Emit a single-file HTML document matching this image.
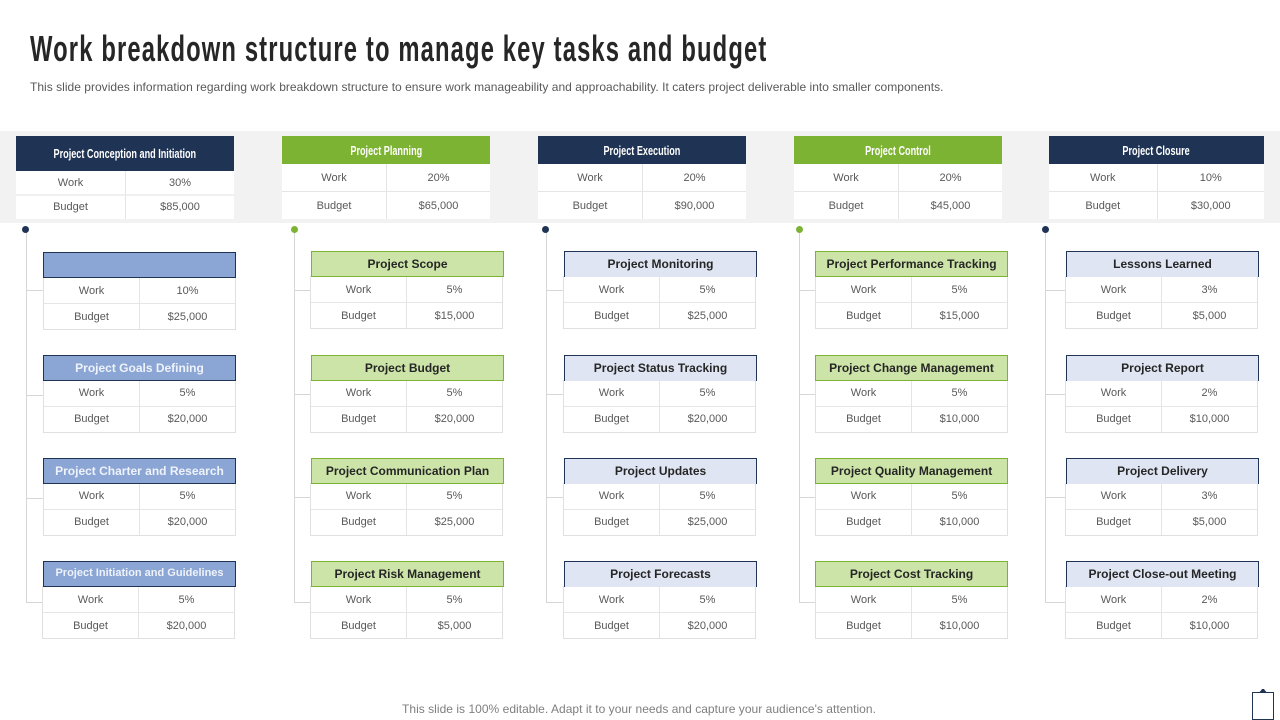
<!DOCTYPE html>
<html lang="en">
<head>
<meta charset="utf-8">
<title>Work breakdown structure</title>
<style>
html,body{margin:0;padding:0;background:#fff}
#slide{position:relative;width:1280px;height:720px;overflow:hidden;background:#fff;font-family:"Liberation Sans",sans-serif;color:#595959}
#slide div{box-sizing:border-box}
.title{position:absolute;left:30px;top:28px;font-size:36px;line-height:42px;font-weight:700;color:#262626;white-space:nowrap;transform-origin:0 0;transform:scaleX(.66);letter-spacing:1.74px}
.sub{position:absolute;left:30px;top:79px;font-size:12px;line-height:16px;color:#595959;white-space:nowrap;letter-spacing:.023px}
.foot{position:absolute;left:402px;top:701px;font-size:12px;line-height:16px;color:#7f7f7f;white-space:nowrap;letter-spacing:.03px}
.band{position:absolute;left:0;top:131px;width:1280px;height:92px;background:#f2f2f2}
.top{position:absolute;top:136px;background:#fff}
.top .hd{position:absolute;left:0;top:0;width:100%;color:#fff;font-weight:700;font-size:13px;text-align:center;white-space:nowrap}
.top .hd span{display:inline-block;transform:scaleX(.7)}
.navy{background:#1f3354}.green{background:#7db332}
.c{position:absolute;width:50%;text-align:center;font-size:11px;white-space:nowrap}
.l{left:0}.r{left:50%;border-left:1px solid #e4e4e4}
.row2{border-top:1px solid #e6e6e6}
.card{position:absolute;width:192px;height:78px}
.card .hd{position:absolute;left:0;top:0;width:193px;height:26px;line-height:24px;font-size:12px;font-weight:700;text-align:center;white-space:nowrap;z-index:2}
.blue{background:#8ba6d4;border:1px solid #1f3354;color:#eef2fa}
.lgreen{background:#cde4a8;border:1px solid #7db332;color:#262626}
.lblue{background:#dfe5f2;border:1px solid #1f3354;border-bottom:0;color:#262626}
.tb{position:absolute;left:0;top:25px;width:193px;height:53px;background:#fff;border:1px solid #e0e0e0;border-top:0}
.tb .c{height:26px;line-height:28px;top:0}
.tb .l{width:95px}
.tb .r{left:95px;width:96px}
.tb .row2{top:26px;line-height:26px}
.up .tb .c{line-height:26px}
.up .tb .row2{line-height:24px}
.v{position:absolute;width:1px;background:#d6d6d6;top:229px}
.h{position:absolute;height:1px;background:#d6d6d6}
.dot{position:absolute;top:226px;width:7px;height:7px;border-radius:50%;z-index:3}
</style>
</head>
<body>
<div id="slide">
<div class="title">Work breakdown structure to manage key tasks and budget</div>
<div class="sub">This slide provides information regarding work breakdown structure to ensure work manageability and approachability. It caters project deliverable into smaller components.</div>
<div class="band"></div>

<div class="top" style="left:16px;width:218px;height:83px">
<div class="hd navy" style="height:35px;line-height:35px"><span>Project Conception and Initiation</span></div>
<div class="c l" style="top:35px;height:24px;line-height:25px;width:109px">Work</div>
<div class="c r" style="top:35px;height:24px;line-height:25px;left:109px;width:109px">30%</div>
<div class="c l" style="top:58px;height:25px;line-height:23px;width:109px;border-top:2px solid #f0f0f0">Budget</div>
<div class="c r" style="top:58px;height:25px;line-height:23px;left:109px;width:109px;border-top:2px solid #f0f0f0">$85,000</div>
</div>

<div class="top" style="left:282px;width:208px;height:83px">
<div class="hd green" style="height:28px;line-height:30px"><span>Project Planning</span></div>
<div class="c l" style="top:28px;height:27px;line-height:29px">Work</div>
<div class="c r" style="top:28px;height:27px;line-height:29px">20%</div>
<div class="c l row2" style="top:55px;height:28px;line-height:29px">Budget</div>
<div class="c r row2" style="top:55px;height:28px;line-height:29px">$65,000</div>
</div>

<div class="top" style="left:538px;width:208px;height:83px">
<div class="hd navy" style="height:28px;line-height:30px"><span>Project Execution</span></div>
<div class="c l" style="top:28px;height:27px;line-height:29px">Work</div>
<div class="c r" style="top:28px;height:27px;line-height:29px">20%</div>
<div class="c l row2" style="top:55px;height:28px;line-height:29px">Budget</div>
<div class="c r row2" style="top:55px;height:28px;line-height:29px">$90,000</div>
</div>

<div class="top" style="left:794px;width:208px;height:83px">
<div class="hd green" style="height:28px;line-height:30px"><span>Project Control</span></div>
<div class="c l" style="top:28px;height:27px;line-height:29px">Work</div>
<div class="c r" style="top:28px;height:27px;line-height:29px">20%</div>
<div class="c l row2" style="top:55px;height:28px;line-height:29px">Budget</div>
<div class="c r row2" style="top:55px;height:28px;line-height:29px">$45,000</div>
</div>

<div class="top" style="left:1049px;width:215px;height:83px">
<div class="hd navy" style="height:28px;line-height:30px"><span>Project Closure</span></div>
<div class="c l" style="top:28px;height:27px;line-height:29px">Work</div>
<div class="c r" style="top:28px;height:27px;line-height:29px">10%</div>
<div class="c l row2" style="top:55px;height:28px;line-height:29px">Budget</div>
<div class="c r row2" style="top:55px;height:28px;line-height:29px">$30,000</div>
</div>

<div class="dot navy" style="left:22px"></div>
<div class="v" style="left:26px;height:374px"></div>
<div class="h" style="left:26px;top:290px;width:17px"></div>
<div class="h" style="left:26px;top:395px;width:17px"></div>
<div class="h" style="left:26px;top:498px;width:17px"></div>
<div class="h" style="left:26px;top:602px;width:17px"></div>

<div class="dot green" style="left:291px"></div>
<div class="v" style="left:294px;height:374px"></div>
<div class="h" style="left:294px;top:290px;width:17px"></div>
<div class="h" style="left:294px;top:394px;width:17px"></div>
<div class="h" style="left:294px;top:497px;width:17px"></div>
<div class="h" style="left:294px;top:602px;width:17px"></div>

<div class="dot navy" style="left:542px"></div>
<div class="v" style="left:546px;height:374px"></div>
<div class="h" style="left:546px;top:290px;width:18px"></div>
<div class="h" style="left:546px;top:394px;width:18px"></div>
<div class="h" style="left:546px;top:497px;width:18px"></div>
<div class="h" style="left:546px;top:602px;width:18px"></div>

<div class="dot green" style="left:796px"></div>
<div class="v" style="left:799px;height:374px"></div>
<div class="h" style="left:799px;top:290px;width:16px"></div>
<div class="h" style="left:799px;top:394px;width:16px"></div>
<div class="h" style="left:799px;top:497px;width:16px"></div>
<div class="h" style="left:799px;top:602px;width:16px"></div>

<div class="dot navy" style="left:1042px"></div>
<div class="v" style="left:1045px;height:374px"></div>
<div class="h" style="left:1045px;top:290px;width:21px"></div>
<div class="h" style="left:1045px;top:394px;width:21px"></div>
<div class="h" style="left:1045px;top:497px;width:21px"></div>
<div class="h" style="left:1045px;top:602px;width:21px"></div>

<!-- Column A -->
<div class="card" style="left:43px;top:252px"><div class="hd blue"></div><div class="tb"><div class="c l">Work</div><div class="c r">10%</div><div class="c l row2">Budget</div><div class="c r row2">$25,000</div></div></div>
<div class="card up" style="left:43px;top:355px"><div class="hd blue">Project Goals Defining</div><div class="tb"><div class="c l">Work</div><div class="c r">5%</div><div class="c l row2">Budget</div><div class="c r row2">$20,000</div></div></div>
<div class="card up" style="left:43px;top:458px"><div class="hd blue">Project Charter and Research</div><div class="tb"><div class="c l">Work</div><div class="c r">5%</div><div class="c l row2">Budget</div><div class="c r row2">$20,000</div></div></div>
<div class="card" style="left:42px;top:561px"><div class="hd blue" style="left:1px;font-size:11px;line-height:22px">Project Initiation and Guidelines</div><div class="tb"><div class="c l">Work</div><div class="c r">5%</div><div class="c l row2">Budget</div><div class="c r row2">$20,000</div></div></div>

<!-- Column B -->
<div class="card" style="left:310px;top:251px"><div class="hd lgreen" style="left:1px">Project Scope</div><div class="tb"><div class="c l">Work</div><div class="c r">5%</div><div class="c l row2">Budget</div><div class="c r row2">$15,000</div></div></div>
<div class="card up" style="left:310px;top:355px"><div class="hd lgreen" style="left:1px">Project Budget</div><div class="tb"><div class="c l">Work</div><div class="c r">5%</div><div class="c l row2">Budget</div><div class="c r row2">$20,000</div></div></div>
<div class="card up" style="left:310px;top:458px"><div class="hd lgreen" style="left:1px">Project Communication Plan</div><div class="tb"><div class="c l">Work</div><div class="c r">5%</div><div class="c l row2">Budget</div><div class="c r row2">$25,000</div></div></div>
<div class="card" style="left:310px;top:561px"><div class="hd lgreen" style="left:1px">Project Risk Management</div><div class="tb"><div class="c l">Work</div><div class="c r">5%</div><div class="c l row2">Budget</div><div class="c r row2">$5,000</div></div></div>

<!-- Column C -->
<div class="card" style="left:563px;top:251px"><div class="hd lblue" style="left:1px">Project Monitoring</div><div class="tb"><div class="c l">Work</div><div class="c r">5%</div><div class="c l row2">Budget</div><div class="c r row2">$25,000</div></div></div>
<div class="card up" style="left:563px;top:355px"><div class="hd lblue" style="left:1px">Project Status Tracking</div><div class="tb"><div class="c l">Work</div><div class="c r">5%</div><div class="c l row2">Budget</div><div class="c r row2">$20,000</div></div></div>
<div class="card up" style="left:563px;top:458px"><div class="hd lblue" style="left:1px">Project Updates</div><div class="tb"><div class="c l">Work</div><div class="c r">5%</div><div class="c l row2">Budget</div><div class="c r row2">$25,000</div></div></div>
<div class="card" style="left:563px;top:561px"><div class="hd lblue" style="left:1px">Project Forecasts</div><div class="tb"><div class="c l">Work</div><div class="c r">5%</div><div class="c l row2">Budget</div><div class="c r row2">$20,000</div></div></div>

<!-- Column D -->
<div class="card" style="left:815px;top:251px"><div class="hd lgreen">Project Performance Tracking</div><div class="tb"><div class="c l">Work</div><div class="c r">5%</div><div class="c l row2">Budget</div><div class="c r row2">$15,000</div></div></div>
<div class="card up" style="left:815px;top:355px"><div class="hd lgreen">Project Change Management</div><div class="tb"><div class="c l">Work</div><div class="c r">5%</div><div class="c l row2">Budget</div><div class="c r row2">$10,000</div></div></div>
<div class="card up" style="left:815px;top:458px"><div class="hd lgreen">Project Quality Management</div><div class="tb"><div class="c l">Work</div><div class="c r">5%</div><div class="c l row2">Budget</div><div class="c r row2">$10,000</div></div></div>
<div class="card" style="left:815px;top:561px"><div class="hd lgreen">Project Cost Tracking</div><div class="tb"><div class="c l">Work</div><div class="c r">5%</div><div class="c l row2">Budget</div><div class="c r row2">$10,000</div></div></div>

<!-- Column E -->
<div class="card" style="left:1065px;top:251px"><div class="hd lblue" style="left:1px">Lessons Learned</div><div class="tb"><div class="c l">Work</div><div class="c r">3%</div><div class="c l row2">Budget</div><div class="c r row2">$5,000</div></div></div>
<div class="card up" style="left:1065px;top:355px"><div class="hd lblue" style="left:1px">Project Report</div><div class="tb"><div class="c l">Work</div><div class="c r">2%</div><div class="c l row2">Budget</div><div class="c r row2">$10,000</div></div></div>
<div class="card up" style="left:1065px;top:458px"><div class="hd lblue" style="left:1px">Project Delivery</div><div class="tb"><div class="c l">Work</div><div class="c r">3%</div><div class="c l row2">Budget</div><div class="c r row2">$5,000</div></div></div>
<div class="card" style="left:1065px;top:561px"><div class="hd lblue" style="left:1px">Project Close-out Meeting</div><div class="tb"><div class="c l">Work</div><div class="c r">2%</div><div class="c l row2">Budget</div><div class="c r row2">$10,000</div></div></div>

<div class="foot">This slide is 100% editable. Adapt it to your needs and capture your audience's attention.</div>

<svg style="position:absolute;left:1250px;top:686px" width="28" height="34" viewBox="0 0 28 34">
<rect x="2.5" y="6.5" width="21" height="27" fill="#fff" stroke="#1f3354" stroke-width="1"/>
<path d="M9 6.5 L11 4.5 L12 3 L14 3 L15 4.5 L17 6.5 Z" fill="#1f3354"/>
</svg>
</div>
</body>
</html>
